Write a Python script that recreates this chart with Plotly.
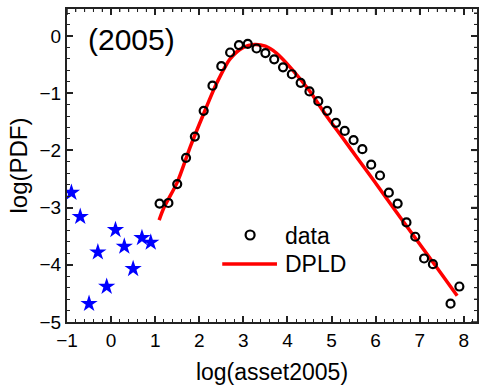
import plotly.graph_objects as go

# ---- data ----
data_x = [1.1, 1.3, 1.5, 1.7, 1.9, 2.1, 2.3, 2.5, 2.7, 2.9, 3.1, 3.3, 3.5, 3.7, 3.9,
          4.1, 4.3, 4.5, 4.7, 4.9, 5.1, 5.3, 5.5, 5.7, 5.9, 6.1, 6.3, 6.5, 6.7, 6.9,
          7.1, 7.3, 7.7, 7.9]
data_y = [-2.93, -2.92, -2.59, -2.13, -1.76, -1.31, -0.87, -0.53, -0.29, -0.16, -0.14,
          -0.22, -0.30, -0.41, -0.55, -0.67, -0.82, -0.97, -1.14, -1.31, -1.52, -1.66,
          -1.82, -1.98, -2.25, -2.44, -2.74, -2.93, -3.26, -3.51, -3.89, -3.99, -4.68,
          -4.38]

star_x = [-0.9, -0.7, -0.5, -0.3, -0.1, 0.1, 0.3, 0.5, 0.7, 0.9]
star_y = [-2.74, -3.16, -4.68, -3.78, -4.38, -3.39, -3.68, -4.07, -3.53, -3.61]

fit_x = [1.09, 1.2, 1.5, 1.8, 2.1, 2.4, 2.7, 3.0, 3.25, 3.5, 3.75, 4.1, 4.5, 4.85,
         5.25, 5.6, 5.95, 6.25, 6.85, 7.4, 7.85]
fit_y = [-3.22, -3.0, -2.56, -1.93, -1.36, -0.82, -0.40, -0.20, -0.15, -0.18, -0.30,
         -0.58, -0.96, -1.36, -1.78, -2.15, -2.52, -2.84, -3.48, -4.06, -4.54]

x_ticks = [-1, 0, 1, 2, 3, 4, 5, 6, 7, 8]
y_ticks = [0, -1, -2, -3, -4, -5]

FONT = "Liberation Sans, Arial, sans-serif"
X_RANGE = [-1, 8.3]
Y_RANGE = [-5, 0.47]
AX_COLOR = "#222222"

fig = go.Figure()
fig.add_trace(go.Scatter(x=fit_x, y=fit_y, mode="lines", line=dict(color="#ff0000", width=3.5, shape="spline", smoothing=0.8),
                         showlegend=False, hoverinfo="skip"))
fig.add_trace(go.Scatter(x=data_x, y=data_y, mode="markers",
                         marker=dict(symbol="circle-open", size=8, color="black", line=dict(width=2.2, color="black")),
                         showlegend=False))
fig.add_trace(go.Scatter(x=star_x, y=star_y, mode="markers",
                         marker=dict(symbol="star", size=13, color="#0000ff", line=dict(width=0)),
                         showlegend=False))

tick_common = dict(
    ticks="inside", ticklen=6, tickwidth=1.5, tickcolor=AX_COLOR,
    showgrid=False, zeroline=False, mirror="allticks",
)
minor_common = dict(tickmode="linear", dtick=0.2, tick0=0, ticks="inside", ticklen=3, tickwidth=1, tickcolor=AX_COLOR)

fig.update_layout(
    xaxis=dict(**tick_common, showline=True, linecolor=AX_COLOR, linewidth=2,
               range=X_RANGE, tickvals=x_ticks, minor=minor_common,
               tickfont=dict(family=FONT, size=19, color="black"),
               title=dict(text="log(asset2005)", font=dict(family=FONT, size=23, color="black"), standoff=14)),
    yaxis=dict(**tick_common, showline=True, linecolor=AX_COLOR, linewidth=2,
               range=Y_RANGE, tickvals=y_ticks, minor=minor_common,
               tickfont=dict(family=FONT, size=19, color="black"),
               title=dict(text="log(PDF)", font=dict(family=FONT, size=24, color="black"), standoff=5)),
)

def px_x(p):
    return (p - 67) / 412.0

def px_y(p):
    return (322 - p) / 313.0

shapes = []
# mirrored tick marks on the top and right frame edges (major + minor)
for i in range(int(round((X_RANGE[1] - X_RANGE[0]) / 0.2)) + 1):
    v = round(X_RANGE[0] + 0.2 * i, 6)
    if v > X_RANGE[1]:
        break
    major = abs(v - round(v)) < 1e-6
    shapes.append(dict(type="line", xref="x", yref="paper", ysizemode="pixel", yanchor=1,
                       x0=v, x1=v, y0=0, y1=-(6 if major else 3),
                       line=dict(color=AX_COLOR, width=1.5 if major else 1)))
for i in range(int(round((Y_RANGE[1] - Y_RANGE[0]) / 0.2)) + 1):
    v = round(Y_RANGE[0] + 0.2 * i, 6)
    if v > Y_RANGE[1]:
        break
    major = abs(v - round(v)) < 1e-6
    shapes.append(dict(type="line", xref="paper", yref="y", xsizemode="pixel", xanchor=1,
                       y0=v, y1=v, x0=0, x1=-(6 if major else 3),
                       line=dict(color=AX_COLOR, width=1.5 if major else 1)))

shapes += [
    dict(type="circle", xref="paper", yref="paper", xsizemode="pixel", ysizemode="pixel",
         xanchor=px_x(251), yanchor=px_y(235), x0=-4.5, x1=4.5, y0=-4.5, y1=4.5,
         line=dict(color="black", width=2.2)),
    dict(type="line", xref="paper", yref="paper", x0=px_x(223), x1=px_x(278), y0=px_y(264), y1=px_y(264),
         line=dict(color="#ff0000", width=3.5)),
]
annotations = [
    dict(text="data", xref="paper", yref="paper", x=px_x(284), y=px_y(236), xanchor="left", yanchor="middle",
         showarrow=False, font=dict(family=FONT, size=23, color="black")),
    dict(text="DPLD", xref="paper", yref="paper", x=px_x(284), y=px_y(264), xanchor="left", yanchor="middle",
         showarrow=False, font=dict(family=FONT, size=23, color="black")),
    dict(text="(2005)", xref="paper", yref="paper", x=px_x(132), y=px_y(39), xanchor="center", yanchor="middle",
         showarrow=False, font=dict(family=FONT, size=30, color="black")),
]

fig.update_layout(
    width=481, height=386,
    margin=dict(l=67, r=2, t=9, b=64),
    paper_bgcolor="white", plot_bgcolor="white",
    shapes=shapes, annotations=annotations,
    showlegend=False,
)

fig.write_html("out.html")
